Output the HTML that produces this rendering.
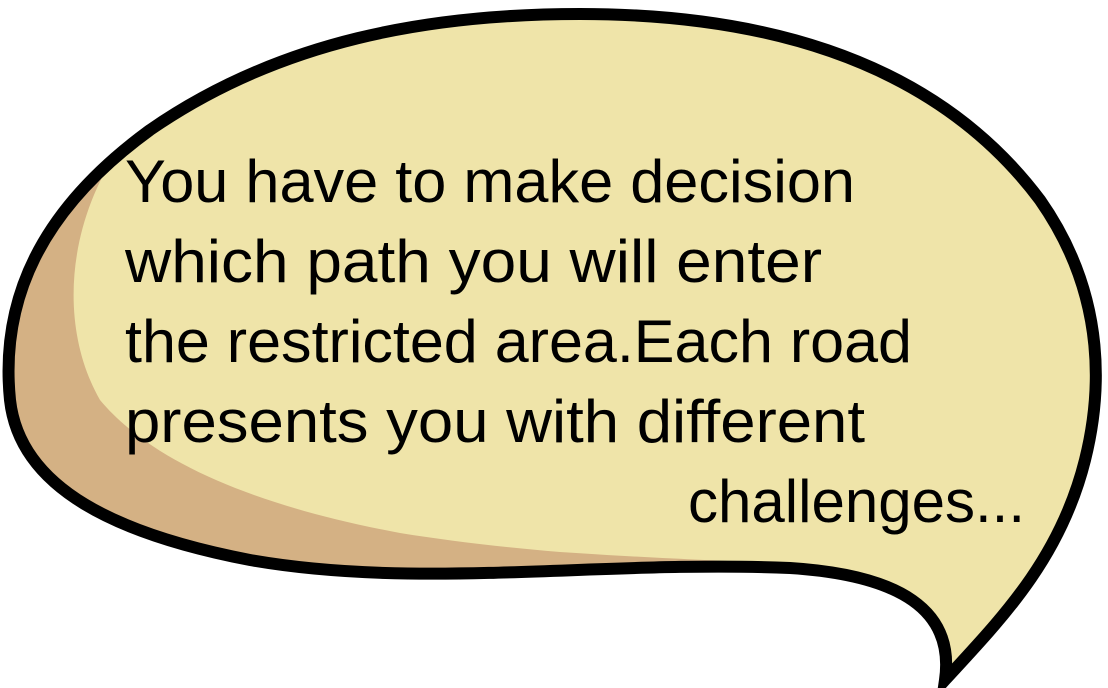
<!DOCTYPE html>
<html><head><meta charset="utf-8"><style>html,body{margin:0;padding:0;background:#fff;overflow:hidden}svg{display:block}</style></head>
<body>
<svg width="1108" height="688" viewBox="0 0 1108 688" xmlns="http://www.w3.org/2000/svg">
<defs>
<clipPath id="c"><path d="M 945 680 C 955 610, 900 575, 790 568 C 600 560, 420 590, 250 560 C 120 535, 20 490, 10 400 C 0 300, 40 210, 150 130 C 280 40, 430 14, 580 14 C 800 14, 950 80, 1040 200 C 1110 300, 1100 400, 1085 460 C 1060 560, 1000 620, 945 680 Z"/></clipPath>
</defs>
<path d="M 945 680 C 955 610, 900 575, 790 568 C 600 560, 420 590, 250 560 C 120 535, 20 490, 10 400 C 0 300, 40 210, 150 130 C 280 40, 430 14, 580 14 C 800 14, 950 80, 1040 200 C 1110 300, 1100 400, 1085 460 C 1060 560, 1000 620, 945 680 Z" fill="#d4b184"/>
<g clip-path="url(#c)">
<path d="M 118 150 C 65 230, 60 330, 100 400 C 150 460, 250 505, 400 533 C 450 541, 500 547, 560 552 C 680 560, 760 562, 820 565 L 900 590 L 940 700 L 1200 700 L 1200 -10 L 118 -10 Z" fill="#efe4a9"/>
</g>
<path d="M 945 680 C 955 610, 900 575, 790 568 C 600 560, 420 590, 250 560 C 120 535, 20 490, 10 400 C 0 300, 40 210, 150 130 C 280 40, 430 14, 580 14 C 800 14, 950 80, 1040 200 C 1110 300, 1100 400, 1085 460 C 1060 560, 1000 620, 945 680 Z" fill="none" stroke="#000" stroke-width="12"/>
<g font-family="Liberation Sans, sans-serif" font-size="60" fill="#000">
<text x="125" y="202" textLength="730" lengthAdjust="spacingAndGlyphs">You have to make decision</text>
<text x="125" y="282" textLength="697" lengthAdjust="spacingAndGlyphs">which path you will enter</text>
<text x="125" y="362" textLength="787" lengthAdjust="spacingAndGlyphs">the restricted area.Each road</text>
<text x="125" y="442" textLength="740" lengthAdjust="spacingAndGlyphs">presents you with different</text>
<text x="688" y="522" textLength="337" lengthAdjust="spacingAndGlyphs">challenges...</text>
</g>
</svg>
</body></html>
